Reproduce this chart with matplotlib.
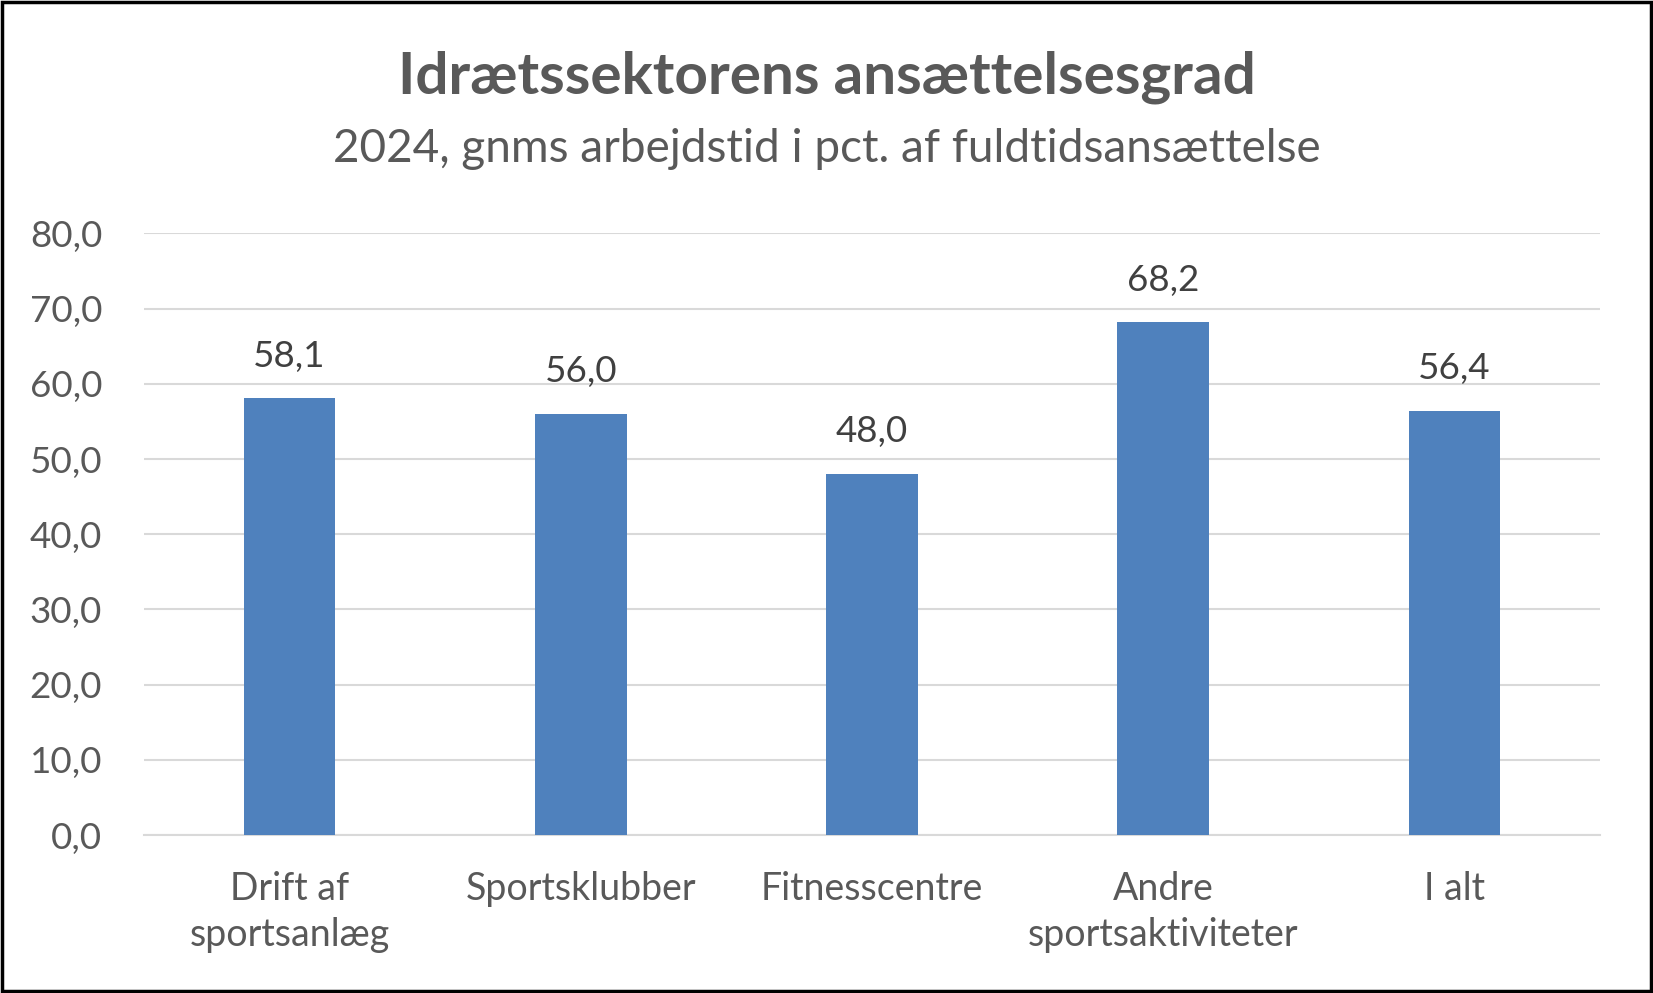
import matplotlib.pyplot as plt
from matplotlib.patches import Rectangle

kategorier = ["Drift af\nsportsanlæg", "Sportsklubber", "Fitnesscentre",
              "Andre\nsportsaktiviteter", "I alt"]
vaerdier = [58.1, 56.0, 48.0, 68.2, 56.4]
yticks = [0, 10, 20, 30, 40, 50, 60, 70, 80]

plt.rcParams['font.family'] = ['Lato', 'DejaVu Sans']

fig = plt.figure(figsize=(16.53, 9.93), dpi=100)
ax = fig.add_axes([0.087, 0.159, 0.881, 0.606])

x = range(len(kategorier))
ax.bar(x, vaerdier, width=0.315, color="#4F81BD", zorder=3)
for i, v in zip(x, vaerdier):
    ax.text(i, v + 3.4, f"{v:.1f}".replace(".", ","), ha="center", va="bottom",
            fontsize=26.5, color="#404040")

ax.set_ylim(0, 80)
ax.set_xlim(-0.5, len(kategorier) - 0.5)
ax.set_yticks(yticks)
ax.set_yticklabels([f"{t:.1f}".replace(".", ",") for t in yticks], fontsize=26.5, color="#595959")
ax.set_xticks(list(x))
ax.set_xticklabels(kategorier, fontsize=27, color="#595959", linespacing=1.35)
ax.tick_params(axis="x", length=0, pad=26)
ax.tick_params(axis="y", length=0, pad=30)
ax.grid(axis="y", color="#D9D9D9", linewidth=1.5, zorder=0)
for s in ["top", "right", "left"]:
    ax.spines[s].set_visible(False)
ax.spines["bottom"].set_color("#D9D9D9")
ax.spines["bottom"].set_linewidth(1.5)

fig.text(0.5, 0.922, "Idrætssektorens ansættelsesgrad", ha="center", va="center",
         fontsize=42, fontweight="bold", color="#595959")
fig.text(0.5, 0.850, "2024, gnms arbejdstid i pct. af fuldtidsansættelse", ha="center",
         va="center", fontsize=33, color="#595959")

fig.patches.append(Rectangle((0.001, 0.002), 0.998, 0.996, transform=fig.transFigure,
                             fill=False, edgecolor="black", linewidth=2.5))

fig.savefig("out.png", dpi=100)
